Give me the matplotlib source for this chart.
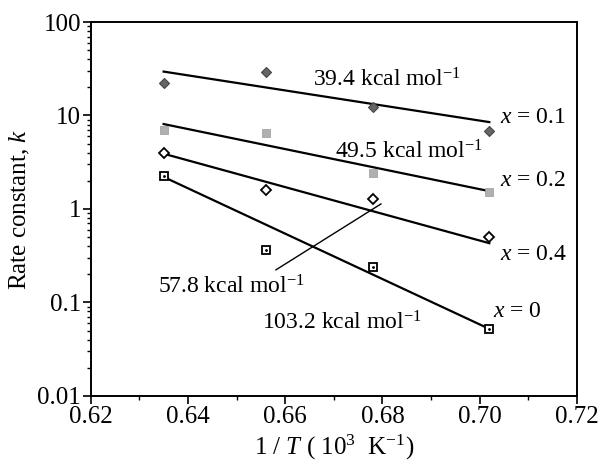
import numpy as np
import matplotlib
matplotlib.use('Agg')
import matplotlib.pyplot as plt

plt.rcParams['font.family'] = ['Liberation Serif']
plt.rcParams['mathtext.fontset'] = 'custom'
plt.rcParams['mathtext.rm'] = 'Liberation Serif'
plt.rcParams['mathtext.it'] = 'Liberation Serif:italic'
plt.rcParams['font.size'] = 17

# measured points, 1/T in 10^3 K^-1
inv_t = [0.635, 0.656, 0.678, 0.702]
k_x01 = [22.5, 29.0, 12.3, 6.8]
k_x02 = [7.0, 6.5, 2.45, 1.5]
k_x04 = [3.95, 1.6, 1.28, 0.50]
k_x0 = [2.25, 0.36, 0.24, 0.052]

# Arrhenius fit lines (ends)
fit_t = [0.635, 0.702]
fit_x01 = [29.5, 8.5]
fit_x02 = [8.1, 1.55]
fit_x04 = [3.9, 0.43]
fit_x0 = [2.2, 0.052]

fig = plt.figure(figsize=(6.13, 4.69), dpi=100)
ax = fig.add_axes([0.148, 0.156, 0.793, 0.797])

for f in [fit_x01, fit_x02, fit_x04, fit_x0]:
    ax.plot(fit_t, f, color='black', lw=1.6)

ax.plot(inv_t, k_x01, 'D', ms=5, mfc='#666666', mec='#444444', mew=0.8)
ax.plot(inv_t, k_x02, 's', ms=6, mfc='#b0b0b0', mec='#999999', mew=0.5)
ax.plot(inv_t, k_x04, 'D', ms=5, mfc='white', mec='black', mew=1.3)
ax.plot(inv_t, k_x0, 's', ms=6, mfc='white', mec='black', mew=1.3)
ax.plot(inv_t, k_x0, '.', ms=2, color='black')

ax.set_yscale('log')
ax.set_xlim(0.62, 0.72)
ax.set_ylim(0.01, 100)
ax.set_xticks([0.62, 0.64, 0.66, 0.68, 0.70, 0.72])
ax.set_xticklabels(['0.62', '0.64', '0.66', '0.68', '0.70', '0.72'])
ax.set_xticks(np.arange(0.63, 0.72, 0.02), minor=True)
ax.set_yticks([0.01, 0.1, 1, 10, 100])
ax.set_yticklabels(['0.01', '0.1', '1', '10', '100'])
ax.tick_params(which='major', direction='out', length=6, width=1.2, labelsize=18, pad=1)
ax.tick_params(which='minor', direction='out', length=3, width=1.0)
for s in ax.spines.values():
    s.set_linewidth(1.4)

ax.set_ylabel('Rate constant, $\\it{k}$', fontsize=18, labelpad=4)
ax.set_xlabel('1 / $\\it{T}$ ( 10$^{\\mathregular{3}}$  K$^{\\mathregular{-1}}$)', fontsize=18, labelpad=4)

unit = ' kcal mol$^{\\mathregular{-1}}$'
ax.text(0.6657, 20.2, '39.4' + unit, ha='left', va='baseline')
ax.text(0.6702, 3.5, '49.5' + unit, ha='left', va='baseline')
ax.text(0.6338, 0.126, '57.8' + unit, ha='left', va='baseline')
ax.text(0.6552, 0.0508, '103.2' + unit, ha='left', va='baseline')
ax.plot([0.6581, 0.6797], [0.223, 1.13], color='black', lw=1.0)

ax.text(0.7042, 8.3, '$\\it{x}$ = 0.1', ha='left', va='baseline')
ax.text(0.7042, 1.76, '$\\it{x}$ = 0.2', ha='left', va='baseline')
ax.text(0.7042, 0.285, '$\\it{x}$ = 0.4', ha='left', va='baseline')
ax.text(0.7027, 0.070, '$\\it{x}$ = 0', ha='left', va='baseline')

fig.savefig('out.png', dpi=100)
